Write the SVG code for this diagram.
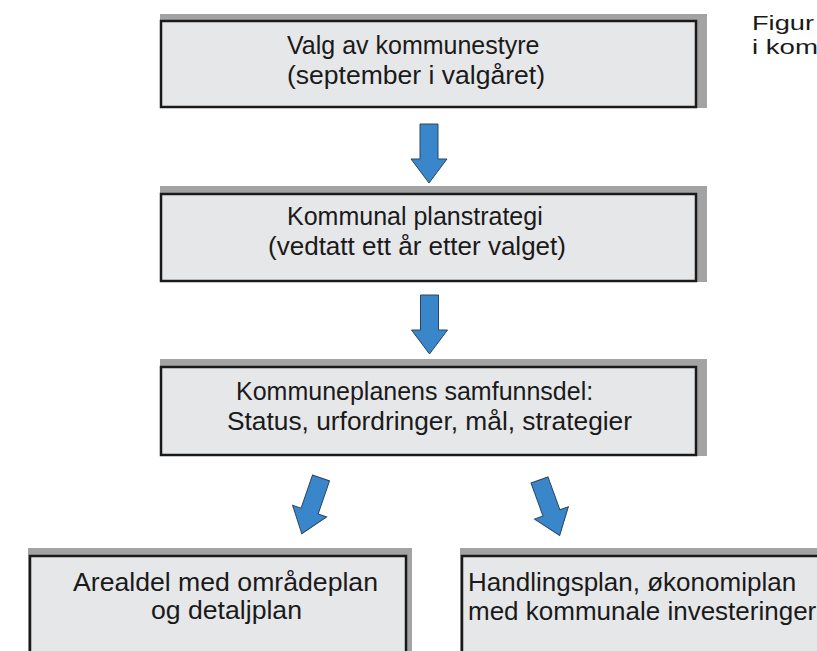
<svg xmlns="http://www.w3.org/2000/svg" width="817" height="651" viewBox="0 0 817 651">
<style>
.shadow{fill:#a3a3a3}
.box{fill:#e6e7e9;stroke:#1a1a1a;stroke-width:2.5}
.t{font-family:"Liberation Sans",Arial,sans-serif;font-size:25px;fill:#1a1a1a}
.tb{font-family:"Liberation Sans",Arial,sans-serif;font-size:26px;fill:#1a1a1a}
.cap{font-family:"Liberation Sans",Arial,sans-serif;font-size:21px;fill:#1a1a1a}
.arrow{fill:#3a86cb;stroke:#2b4660;stroke-width:1}
</style>
<defs>
<path id="arr" d="M-9,0 H9 V35 H18 L0,59 L-18,35 H-9 Z"/>
</defs>
<rect width="817" height="651" fill="#ffffff"/>
<g id="caption">
<text class="cap" x="752" y="30" textLength="62" lengthAdjust="spacingAndGlyphs">Figur</text>
<text class="cap" x="752" y="54" textLength="66" lengthAdjust="spacingAndGlyphs">i kom</text>
</g>
<g id="node-valg">
<rect class="shadow" x="160" y="14" width="547" height="94"/>
<rect class="box" x="161" y="21" width="535" height="86"/>
<text class="t" x="287" y="54">Valg av kommunestyre</text>
<text class="t" x="287" y="84" textLength="258" lengthAdjust="spacingAndGlyphs">(september i valgåret)</text>
</g>
<g id="node-planstrategi">
<rect class="shadow" x="160" y="186" width="547" height="96"/>
<rect class="box" x="161" y="194" width="535" height="87"/>
<text class="t" x="287" y="225">Kommunal planstrategi</text>
<text class="t" x="268" y="255" textLength="298" lengthAdjust="spacingAndGlyphs">(vedtatt ett år etter valget)</text>
</g>
<g id="node-samfunnsdel">
<rect class="shadow" x="160" y="359" width="547" height="97"/>
<rect class="box" x="161" y="367" width="535" height="88"/>
<text class="t" x="236" y="400">Kommuneplanens samfunnsdel:</text>
<text class="t" x="227" y="430" textLength="405" lengthAdjust="spacingAndGlyphs">Status, urfordringer, mål, strategier</text>
</g>
<g id="node-arealdel">
<rect class="shadow" x="28" y="548" width="384" height="110"/>
<rect class="box" x="30" y="556" width="376" height="110"/>
<text class="tb" x="73" y="591" textLength="305" lengthAdjust="spacingAndGlyphs">Arealdel med områdeplan</text>
<text class="tb" x="151" y="619" textLength="151" lengthAdjust="spacingAndGlyphs">og detaljplan</text>
</g>
<g id="node-handlingsplan">
<rect class="shadow" x="460" y="548" width="370" height="110"/>
<rect class="box" x="462" y="556" width="370" height="110"/>
<text class="tb" x="468" y="591">Handlingsplan, økonomiplan</text>
<text class="tb" x="468" y="620">med kommunale investeringer</text>
</g>
<g id="connectors">
<use href="#arr" class="arrow" transform="translate(429,124)"/>
<use href="#arr" class="arrow" transform="translate(429.5,295)"/>
<use href="#arr" class="arrow" transform="translate(321,478) rotate(19)"/>
<use href="#arr" class="arrow" transform="translate(539.5,480) rotate(-20)"/>
</g>
</svg>
